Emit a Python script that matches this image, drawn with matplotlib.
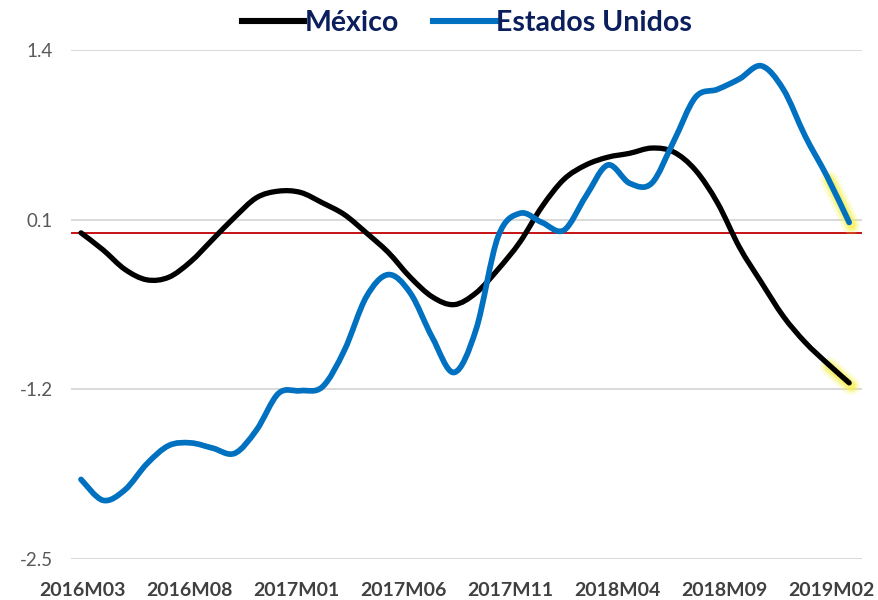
import numpy as np
import matplotlib.pyplot as plt
from matplotlib.path import Path
from matplotlib.patches import PathPatch
from matplotlib.lines import Line2D
import matplotlib.transforms as mtransforms

months = [f"{2016 + (m - 1) // 12}M{(m - 1) % 12 + 1:02d}" for m in range(3, 39)]
tick_labels = ["2016M03", "2016M08", "2017M01", "2017M06",
               "2017M11", "2018M04", "2018M09", "2019M02"]

mexico = [0.00, -0.13, -0.28, -0.36, -0.34, -0.22, -0.05, 0.12, 0.27, 0.32,
          0.31, 0.23, 0.14, 0.00, -0.15, -0.34, -0.49, -0.55, -0.46, -0.28,
          -0.07, 0.20, 0.41, 0.52, 0.58, 0.61, 0.65, 0.62, 0.48, 0.23,
          -0.11, -0.38, -0.64, -0.84, -1.00, -1.15]
usa = [-1.89, -2.05, -1.97, -1.77, -1.63, -1.61, -1.65, -1.69, -1.51, -1.23,
       -1.21, -1.18, -0.90, -0.49, -0.32, -0.46, -0.80, -1.07, -0.74, -0.03,
       0.15, 0.08, 0.02, 0.28, 0.52, 0.38, 0.38, 0.70, 1.04, 1.10,
       1.18, 1.28, 1.10, 0.74, 0.43, 0.08]


def smooth_path(x, y, start=0):
    # Excel-style smoothed line: cubic Bezier segments through the data points
    p = np.column_stack([x, y]).astype(float)
    n = len(p)
    verts = [p[start]]
    codes = [Path.MOVETO]
    for i in range(start, n - 1):
        p0 = p[i - 1] if i > 0 else p[i]
        p3 = p[i + 2] if i + 2 < n else p[i + 1]
        c1 = p[i] + (p[i + 1] - p0) / 6
        c2 = p[i + 1] - (p3 - p[i]) / 6
        verts += [c1, c2, p[i + 1]]
        codes += [Path.CURVE4] * 3
    return Path(verts, codes)


fig = plt.figure(figsize=(8.79, 6), dpi=100)
ax = fig.add_axes([0.0808, 0.0683, 0.900, 0.848])

x = np.arange(len(months))
ax.set_xlim(-0.456, 35.59)
ax.set_ylim(-2.5, 1.4)

for v in [-2.5, -1.2, 0.1, 1.4]:
    ax.axhline(v, color="#D9D9D9", lw=1.4, zorder=1)
ax.axhline(0, color="#C00000", lw=1.3, zorder=2)

# yellow highlight on the last segment of each series
glow = mtransforms.offset_copy(ax.transData, fig=fig, x=2, y=-3, units="dots")
for series in (mexico, usa):
    for lw, a in [(13, 0.2), (9, 0.35), (6, 0.5)]:
        ax.add_patch(PathPatch(smooth_path(x, series, start=len(x) - 2), fill=False,
                               ec="#F5F040", lw=lw, alpha=a, capstyle="round",
                               transform=glow, zorder=3))

ax.add_patch(PathPatch(smooth_path(x, mexico), fill=False, ec="black", lw=3.8,
                       capstyle="round", joinstyle="round", zorder=4))
ax.add_patch(PathPatch(smooth_path(x, usa), fill=False, ec="#0070C0", lw=4.1,
                       capstyle="round", joinstyle="round", zorder=5))

for s in ax.spines.values():
    s.set_visible(False)
ax.tick_params(length=0)
ax.set_yticks([-2.5, -1.2, 0.1, 1.4])
ax.set_yticklabels(["-2.5", "-1.2", "0.1", "1.4"], fontsize=13.5, color="#595959",
                   family="Lato")
ax.tick_params(axis="y", pad=13)

# category labels, nudged left progressively so the last one fits (as in Excel)
ax.set_xticks([months.index(t) for t in tick_labels])
ax.set_xticklabels([])
base = mtransforms.blended_transform_factory(ax.transData, ax.transAxes)
for k, t in enumerate(tick_labels):
    tr = mtransforms.offset_copy(base, fig=fig, x=1 - 2.7 * k, y=0, units="dots")
    ax.text(months.index(t), -0.062, t, transform=tr, ha="center", va="center",
            fontsize=14, fontweight="bold", color="#404040", family="Lato",
            clip_on=False)

handles = [Line2D([], [], color="black", lw=4.4),
           Line2D([], [], color="#0070C0", lw=4.4)]
leg = ax.legend(handles, ["México", "Estados Unidos"], loc="center",
                bbox_to_anchor=(0.5, 1.053), ncol=2, frameon=False,
                handlelength=2.2, handletextpad=0.0, columnspacing=1.2,
                prop={"family": "Lato", "weight": "bold", "size": 20.5})
for t in leg.get_texts():
    t.set_color("#0B1F5C")

fig.savefig("out.png", dpi=100)
